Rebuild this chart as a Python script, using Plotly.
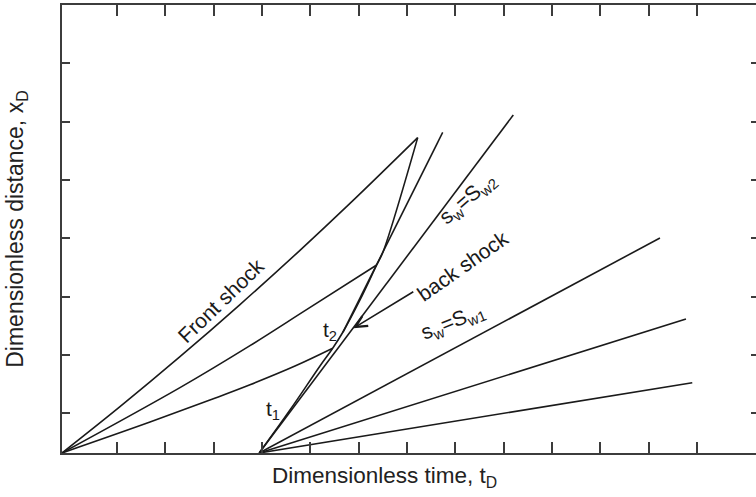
import plotly.graph_objects as go

# Dimensionless time / distance coordinates of each wave path
front_t = [0, 1.200, 2.441, 3.683, 4.924, 5.959, 7.360]
front_x = [0, 0.794, 1.651, 2.545, 3.474, 4.278, 5.406]

upper_fan_t = [0, 2.441, 3.890, 5.028, 6.511]
upper_fan_x = [0, 1.120, 1.840, 2.440, 3.223]

lower_fan_t = [0, 1.821, 3.131, 3.890, 4.821, 5.601]
lower_fan_x = [0, 0.530, 0.930, 1.170, 1.490, 1.795]

back_t = [4.08, 4.717, 5.338, 5.601, 5.814, 6.166, 6.511, 6.642, 7.360]
back_x = [0, 0.737, 1.492, 1.795, 2.074, 2.623, 3.223, 3.446, 5.406]

t2_ray_t = [5.814, 7.877]
t2_ray_x = [2.074, 5.497]

# straight characteristics leaving t1
t1 = 4.08
ray_end_t = [9.338, 12.373, 12.911, 13.041]
ray_end_x = [5.795, 3.686, 2.297, 1.205]

x_ticks = [1.138 + k for k in range(13)]
y_ticks = [0.68 + k for k in range(7)]
x_range = [0, 14.36]
y_range = [0, 7.68]

ink = "#1a1a1a"
frame = "#3c3c3c"
font_family = "Liberation Sans, Arial, sans-serif"

fig = go.Figure()


def add_path(t, x, shape="linear"):
    fig.add_trace(go.Scatter(x=t, y=x, mode="lines",
                             line=dict(color=ink, width=1.6, shape=shape),
                             hoverinfo="skip", showlegend=False))


add_path(front_t, front_x, "spline")
add_path(upper_fan_t, upper_fan_x, "spline")
add_path(lower_fan_t, lower_fan_x, "spline")
add_path(back_t, back_x, "spline")
add_path(t2_ray_t, t2_ray_x)
for et, ex in zip(ray_end_t, ray_end_x):
    add_path([t1, et], [0, ex])

# empty trace so the right-hand tick axis is rendered
fig.add_trace(go.Scatter(x=[], y=[], yaxis="y2", showlegend=False))

label_font = dict(family=font_family, size=21, color=ink)
fig.add_annotation(x=3.29, y=2.61, text="Front shock", textangle=-44,
                   showarrow=False, font=label_font)
fig.add_annotation(x=8.30, y=3.21, text="back shock", textangle=-35,
                   showarrow=False, font=label_font)
fig.add_annotation(x=8.10, y=2.24, text="s<sub>w</sub>=S<sub>w1</sub>",
                   textangle=-22, showarrow=False, font=label_font)
fig.add_annotation(x=8.40, y=4.35, text="s<sub>w</sub>=S<sub>w2</sub>",
                   textangle=-41, showarrow=False, font=label_font)
fig.add_annotation(x=4.37, y=0.73, text="t<sub>1</sub>",
                   showarrow=False, font=label_font)
fig.add_annotation(x=5.55, y=2.10, text="t<sub>2</sub>",
                   showarrow=False, font=label_font)
fig.add_annotation(x=6.03, y=2.14, ax=7.30, ay=2.78, axref="x", ayref="y",
                   text="", showarrow=True, arrowhead=5, arrowsize=1.4,
                   arrowwidth=1.6, arrowcolor=ink)

# time-axis caption
fig.add_annotation(x=0.464, y=-0.054, xref="paper", yref="paper",
                   xanchor="center", yanchor="middle", showarrow=False,
                   text="Dimensionless time, t<sub>D</sub>",
                   font=dict(family=font_family, size=22.5, color="#222"))

fig.update_layout(
    width=756, height=497,
    margin=dict(l=62, r=0, t=5, b=44),
    paper_bgcolor="white", plot_bgcolor="white",
    font=dict(family=font_family, size=19, color="#222"),
    xaxis=dict(range=x_range, tickvals=x_ticks, showticklabels=False,
               ticks="inside", ticklen=11, tickwidth=1.5, tickcolor=frame,
               showline=True, linecolor=frame, linewidth=2, mirror="ticks",
               showgrid=False, zeroline=False),
    yaxis=dict(range=y_range, tickvals=y_ticks, showticklabels=False,
               ticks="inside", ticklen=8, tickwidth=1.5, tickcolor=frame,
               showline=True, linecolor=frame, linewidth=2, mirror=False,
               showgrid=False, zeroline=False,
               title=dict(text="Dimensionless distance, x<sub>D</sub>",
                          standoff=30)),
    yaxis2=dict(range=y_range, tickvals=y_ticks, showticklabels=False,
                overlaying="y", side="right", matches="y",
                ticks="inside", ticklen=5, tickwidth=1.5, tickcolor=frame,
                showline=False, showgrid=False, zeroline=False),
)

fig.write_html("out.html")
